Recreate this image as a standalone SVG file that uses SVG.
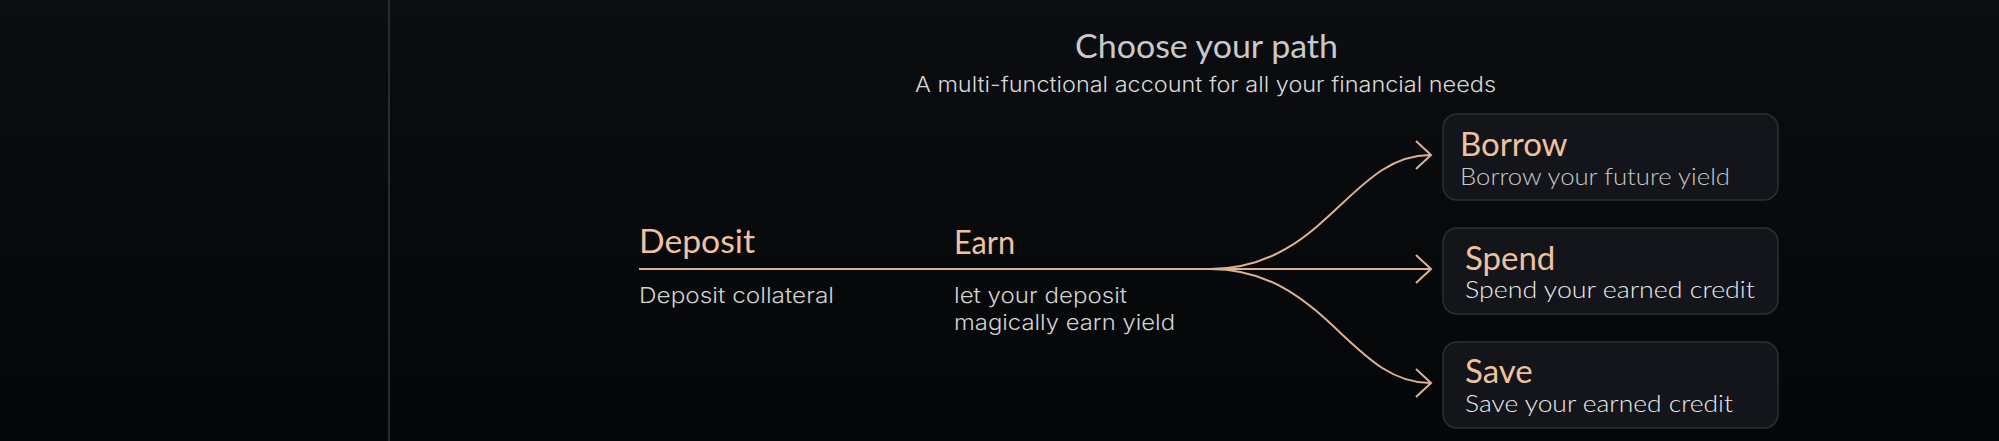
<svg xmlns="http://www.w3.org/2000/svg" width="1999" height="441" viewBox="0 0 1999 441">
  <defs>
    <linearGradient id="bg" x1="0" y1="0" x2="0" y2="1">
      <stop offset="0" stop-color="#0c0d10"/>
      <stop offset="1" stop-color="#050608"/>
    </linearGradient>
    <style>
      .title{font-family:Lato,"Liberation Sans",sans-serif;fill:#efc19f;font-size:32px}
      .desc{font-family:Inter,"Liberation Sans",sans-serif;fill:#d2d2d2;font-size:22px;font-weight:300}
      .box{fill:#13151a;stroke:#2c2f36;stroke-width:1.5}
      .btitle{font-family:Lato,"Liberation Sans",sans-serif;fill:#efc19f;font-size:33px}
      .bsub{font-family:Lato,"Liberation Sans",sans-serif;fill:#ececec;font-size:24px;font-weight:300}
      .wire{fill:none;stroke:#dcb292;stroke-width:2}
      .head{fill:none;stroke:#dcb292;stroke-width:2;stroke-linejoin:miter}
    </style>
  </defs>
  <rect x="0" y="0" width="1999" height="441" fill="url(#bg)"/>
  <line x1="389" y1="0" x2="389" y2="441" stroke="#2a2b2f" stroke-width="2"/>

  <g id="header">
    <text x="1075" y="58" textLength="263" lengthAdjust="spacingAndGlyphs" style="font-family:Lato,'Liberation Sans',sans-serif;font-size:32px;fill:#c9c9c9">Choose your path</text>
    <text x="915" y="92" textLength="581" lengthAdjust="spacingAndGlyphs" style="font-family:Inter,'Liberation Sans',sans-serif;font-size:21px;font-weight:300;fill:#d8d8d8">A multi-functional account for all your financial needs</text>
  </g>

  <g id="deposit">
    <text class="title" x="639" y="253" textLength="116" lengthAdjust="spacingAndGlyphs">Deposit</text>
    <text class="desc" x="639" y="303" textLength="195" lengthAdjust="spacingAndGlyphs">Deposit collateral</text>
  </g>

  <g id="earn">
    <text class="title" x="954" y="254" textLength="61" lengthAdjust="spacingAndGlyphs">Earn</text>
    <text class="desc" x="954" y="303" textLength="173" lengthAdjust="spacingAndGlyphs">let your deposit</text>
    <text class="desc" x="954" y="330" textLength="221" lengthAdjust="spacingAndGlyphs">magically earn yield</text>
  </g>

  <g id="borrow">
    <rect class="box" x="1443" y="114" width="335" height="86" rx="14"/>
    <text class="btitle" x="1460" y="156">Borrow</text>
    <text class="bsub" x="1460" y="185" textLength="270" lengthAdjust="spacingAndGlyphs" style="fill:#c9c9c9">Borrow your future yield</text>
  </g>

  <g id="spend">
    <rect class="box" x="1443" y="228" width="335" height="86" rx="14"/>
    <text class="btitle" x="1465" y="270">Spend</text>
    <text class="bsub" x="1465" y="298" textLength="290" lengthAdjust="spacingAndGlyphs">Spend your earned credit</text>
  </g>

  <g id="save">
    <rect class="box" x="1443" y="342" width="335" height="86" rx="14"/>
    <text class="btitle" x="1465" y="383">Save</text>
    <text class="bsub" x="1465" y="412" textLength="268" lengthAdjust="spacingAndGlyphs">Save your earned credit</text>
  </g>

  <g id="connectors">
    <line class="wire" x1="639" y1="269" x2="1430" y2="269"/>
    <path class="wire" d="M1210,269 C1325,269 1350,155 1430,155"/>
    <path class="wire" d="M1210,269 C1325,269 1350,383 1430,383"/>
    <polyline class="head" points="1416,141 1431,155 1416,169"/>
    <polyline class="head" points="1416,255 1431,269 1416,283"/>
    <polyline class="head" points="1416,369 1431,383 1416,397"/>
  </g>
</svg>
